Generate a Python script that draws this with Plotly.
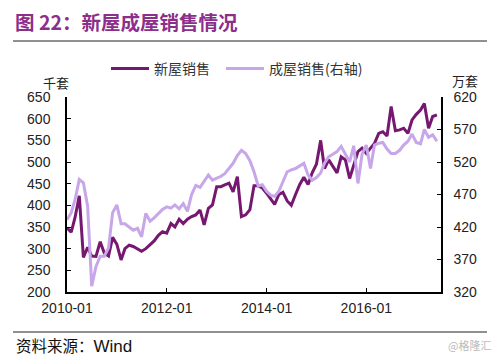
import pandas as pd
import plotly.graph_objects as go

months = pd.date_range("2010-01-01", periods=90, freq="MS")

new_home_sales = [
    348, 338, 372, 422, 280, 303, 283, 282, 316, 290, 283, 326,
    310, 274, 300, 308, 305, 300, 294, 300, 310, 318, 331, 339,
    336, 358, 350, 368, 358, 368, 374, 378, 389, 355, 393, 401,
    443, 443, 447, 451, 431, 466, 374, 378, 390, 445, 445, 440,
    428, 415, 402, 425, 430, 410, 400, 425, 448, 465, 448, 475,
    495, 550, 485, 505, 490, 475, 512, 505, 462, 493, 524, 532,
    520, 532, 543, 566, 570, 560, 628, 572, 574, 578, 566, 597,
    610, 620, 635, 578, 605, 609,
]

existing_home_sales = [
    431, 442, 462, 493, 488, 452, 329, 359, 375, 375, 388, 442,
    454, 425, 425, 420, 415, 418, 405, 441, 429, 434, 440, 447,
    451, 449, 454, 448, 456, 444, 470, 484, 481, 490, 500, 492,
    495, 498, 502, 510, 518, 530, 538, 533, 522, 505, 483, 485,
    475, 469, 467, 475, 490, 505, 508, 510, 514, 518, 500, 492,
    496, 503, 518, 528, 532, 536, 544, 532, 520, 545, 487, 532,
    546, 510, 546, 549, 550, 540, 533, 533, 538, 546, 552, 563,
    550, 548, 570, 558, 562, 552,
]

series_names = ["新屋销售", "成屋销售(右轴)"]
left_ticks = list(range(200, 651, 50))
right_ticks = list(range(320, 621, 50))

DARK = "#761870"
LIGHT = "#C7A6EA"
NUM_FONT = "Arial, Liberation Sans, sans-serif"
CJK_FONT = "Noto Sans CJK SC, sans-serif"

W, H = 500, 357
L, R, T, B = 67, 441, 97, 292


def px(x):
    return (x - L) / (R - L)


def py(y):
    return (B - y) / (B - T)


fig = go.Figure()
fig.add_trace(go.Scatter(
    x=months, y=new_home_sales, name=series_names[0], mode="lines",
    line=dict(color=DARK, width=3), yaxis="y", legend="legend",
))
fig.add_trace(go.Scatter(
    x=months, y=existing_home_sales, name=series_names[1], mode="lines",
    line=dict(color=LIGHT, width=3), yaxis="y2", legend="legend2",
))

axis_common = dict(
    showgrid=False, zeroline=False, showline=True, linecolor="#000",
    linewidth=1.5, ticks="inside", ticklen=4, tickcolor="#000",
    tickfont=dict(family=NUM_FONT, size=14, color="#222"),
    automargin=False,
)

legend_common = dict(
    orientation="h", yanchor="middle", xanchor="left",
    font=dict(family=CJK_FONT, size=14, color="#333"),
    bgcolor="rgba(0,0,0,0)", itemwidth=38,
)

fig.update_layout(
    width=W, height=H, autosize=False,
    margin=dict(l=L, r=W - R, t=T, b=H - B, autoexpand=False),
    paper_bgcolor="white", plot_bgcolor="white",
    showlegend=True,
    legend=dict(**legend_common, x=px(106), y=py(69)),
    legend2=dict(**legend_common, x=px(221), y=py(69)),
    xaxis=dict(
        **axis_common, type="date",
        range=["2010-01-01", "2017-07-01"],
        tick0="2010-01-01", dtick="M24", tickformat="%Y-%m",
        ticklabelstandoff=2,
    ),
    yaxis=dict(
        **axis_common, range=[200, 650], tickvals=left_ticks,
        ticklabelstandoff=12,
    ),
    yaxis2=dict(
        **axis_common, range=[320, 620], tickvals=right_ticks,
        overlaying="y", side="right", ticklabelstandoff=8,
    ),
)

annotations = [
    dict(text="<b>图 22：新屋成屋销售情况</b>", x=px(13), y=py(21),
         xanchor="left", yanchor="middle",
         font=dict(family=CJK_FONT, size=19.5, color="#8B2F8B")),
    dict(text="千套", x=px(56), y=py(82), xanchor="center", yanchor="middle",
         font=dict(family=CJK_FONT, size=13, color="#222")),
    dict(text="万套", x=px(465), y=py(80), xanchor="center", yanchor="middle",
         font=dict(family=CJK_FONT, size=13, color="#222")),
    dict(text="资料来源：<span style='font-family:Arial, Liberation Sans;font-size:17px'>Wind</span>",
         x=px(14), y=py(345), xanchor="left", yanchor="middle",
         font=dict(family=CJK_FONT, size=15.5, color="#111")),
    dict(text="@格隆汇", x=px(493), y=py(345), xanchor="right", yanchor="middle",
         font=dict(family=CJK_FONT, size=11, color="#BBBBBB")),
]
for a in annotations:
    a.update(xref="paper", yref="paper", showarrow=False)
fig.update_layout(annotations=annotations)

fig.update_layout(shapes=[
    dict(type="line", xref="paper", yref="paper", x0=px(13), x1=px(487),
         y0=py(41), y1=py(41), line=dict(color="#222", width=1)),
    dict(type="line", xref="paper", yref="paper", x0=px(13), x1=px(487),
         y0=py(332), y1=py(332), line=dict(color="#222", width=1)),
])

fig.write_html(
    "out.html",
    config={"displayModeBar": False},
    post_script="document.body.style.margin='0';document.body.style.padding='0';",
)
